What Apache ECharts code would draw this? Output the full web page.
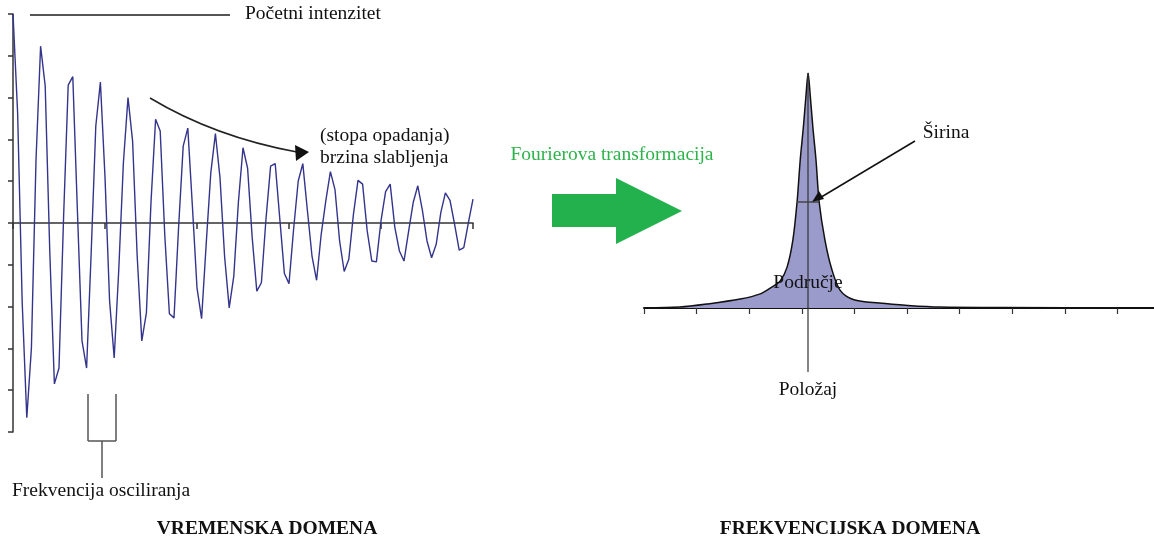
<!DOCTYPE html>
<html>
<head>
<meta charset="utf-8">
<script src="https://cdn.jsdelivr.net/npm/echarts@6/dist/echarts.min.js"></script>
<style>
html,body{margin:0;padding:0;background:#fff;}
#chart{width:1154px;height:541px;}
</style>
</head>
<body>
<div id="chart"></div>
<script>
// ---- Data ----
// Time domain: sampled decaying oscillation, one value per sample (sample step 0.05 time units)
const sampleStep = 0.05;
const decaySignal = [
  5.0, 2.65, -1.9, -4.66, -3.0, 1.5, 4.23, 3.28, -0.7, -3.85,
  -3.47, 0.15, 3.30, 3.50, 0.3, -2.82, -3.47, -0.7, 2.32, 3.37,
  1.1, -1.87, -3.23, -1.1, 1.44, 3.0, 1.96, -0.8, -2.82, -2.15,
  0.5, 2.48, 2.2, -0.3, -2.17, -2.27, -0.1, 1.84, 2.27, 0.4,
  -1.55, -2.29, -0.5, 1.2, 2.14, 1.08, -0.8, -2.03, -1.27, 0.5,
  1.8, 1.31, -0.35, -1.63, -1.43, 0.1, 1.36, 1.42, 0.1, -1.21,
  -1.45, -0.15, 1.0, 1.42, 0.3, -0.79, -1.37, -0.27, 0.53, 1.23,
  0.8, -0.43, -1.16, -0.87, 0.2, 1.02, 0.93, -0.19, -0.91, -0.93,
  0.05, 0.75, 0.93, -0.1, -0.67, -0.91, -0.2, 0.49, 0.89, 0.3,
  -0.43, -0.83, -0.51, 0.25, 0.72, 0.54, -0.03, -0.65, -0.59, 0.01,
  0.57
];
// Frequency domain: peak (frequency, relative intensity)
const peakFreq = [0.00, 0.68, 1.20, 1.83, 2.21, 2.43, 2.59, 2.72, 2.83, 2.91, 2.97, 3.03, 3.08, 3.12,
                  3.16, 3.21, 3.27, 3.33, 3.44, 3.57, 3.73, 3.99, 4.47, 5.02, 5.63, 6.77, 9.70];
const peakIntensity = [0.0, 0.004, 0.017, 0.038, 0.06, 0.089, 0.115, 0.174, 0.289, 0.451, 0.63, 0.77, 0.906, 1.0,
                  0.906, 0.77, 0.63, 0.451, 0.289, 0.165, 0.075, 0.035, 0.021, 0.011, 0.004, 0.002, 0.0];
const peakPosition = 3.12;

// Labels
const labels = {
  initial: 'Početni intenzitet',
  decay1: '(stopa opadanja)',
  decay2: 'brzina slabljenja',
  freq: 'Frekvencija osciliranja',
  timeDomain: 'VREMENSKA DOMENA',
  fourier: 'Fourierova transformacija',
  width: 'Širina',
  area: 'Područje',
  position: 'Položaj',
  freqDomain: 'FREKVENCIJSKA DOMENA'
};

// ---- Build chart ----
const timeData = decaySignal.map((v, i) => [+(i * sampleStep).toFixed(2), v]);
const peakData = peakFreq.map((f, i) => [f, peakIntensity[i]]);

const FONT = '"Liberation Serif", "Times New Roman", serif';
const chart = echarts.init(document.getElementById('chart'), null, {renderer: 'canvas'});

function txt(x, y, text, opt) {
  return {
    type: 'text', x: x, y: y, z: 100,
    style: Object.assign({text: text, fill: '#111', font: '19.5px ' + FONT, textAlign: 'left', textVerticalAlign: 'middle'}, opt || {})
  };
}
function ln(x1, y1, x2, y2, color, w) {
  return {type: 'line', z: 90, shape: {x1, y1, x2, y2}, style: {stroke: color || '#444', lineWidth: w || 1.5}};
}

const option = {
  animation: false,
  backgroundColor: '#fff',
  grid: [
    {left: 13, top: 14, width: 460, height: 418, outerBoundsMode: 'none', containLabel: false},
    {left: 644, top: 73, width: 526, height: 235, outerBoundsMode: 'none', containLabel: false}
  ],
  xAxis: [
    {gridIndex: 0, type: 'value', min: 0, max: 5, interval: 1,
     axisLine: {onZero: true, lineStyle: {color: '#333', width: 1.5}},
     axisTick: {show: true, length: 6, lineStyle: {color: '#333', width: 1.5}},
     axisLabel: {show: false}, splitLine: {show: false}},
    {gridIndex: 1, type: 'value', min: 0, max: 10, interval: 1,
     axisLine: {lineStyle: {color: '#111', width: 2}},
     axisTick: {show: true, length: 6, lineStyle: {color: '#333', width: 1.2}},
     axisLabel: {show: false}, splitLine: {show: false}}
  ],
  yAxis: [
    {gridIndex: 0, type: 'value', min: -5, max: 5, interval: 1,
     axisLine: {show: true, onZero: false, lineStyle: {color: '#333', width: 1.5}},
     axisTick: {show: true, length: 5, lineStyle: {color: '#333', width: 1.5}},
     axisLabel: {show: false}, splitLine: {show: false}},
    {gridIndex: 1, type: 'value', min: 0, max: 1, show: false, splitLine: {show: false}}
  ],
  series: [
    {type: 'line', xAxisIndex: 0, yAxisIndex: 0, data: timeData, showSymbol: false,
     lineStyle: {color: '#34348c', width: 1.4}, z: 5},
    {type: 'line', xAxisIndex: 1, yAxisIndex: 1, data: peakData, showSymbol: false, smooth: 0.3,
     lineStyle: {color: '#111', width: 1.5},
     areaStyle: {color: '#9a9acb', opacity: 1}, z: 3}
  ],
  graphic: [
    // initial intensity
    ln(30, 15, 230, 15, '#555', 2),
    txt(245, 14, labels.initial),
    // decay-rate arrow
    {type: 'bezierCurve', z: 90, shape: {x1: 150, y1: 98, cpx1: 215, cpy1: 137, x2: 297, y2: 152},
     style: {stroke: '#222', lineWidth: 1.5, fill: null}},
    {type: 'polygon', z: 91, shape: {points: [[295, 145], [309, 152], [296, 161]]}, style: {fill: '#111'}},
    txt(320, 136, labels.decay1),
    txt(320, 158, labels.decay2),
    // frequency bracket
    ln(88, 394, 88, 441, '#555', 1.5),
    ln(116, 394, 116, 441, '#555', 1.5),
    ln(88, 441, 116, 441, '#555', 1.5),
    ln(102, 441, 102, 478, '#555', 1.5),
    txt(12, 491, labels.freq),
    txt(267, 529, labels.timeDomain, {textAlign: 'center', font: 'bold 19.5px ' + FONT}),
    // Fourier arrow
    txt(612, 155, labels.fourier, {textAlign: 'center', fill: '#2db34a'}),
    {type: 'polygon', z: 90, shape: {points: [[552, 194], [616, 194], [616, 178], [682, 211], [616, 244], [616, 227], [552, 227]]},
     style: {fill: '#22b14c'}},
    // right side annotations
    ln(808, 73, 808, 372, '#333', 1.2),
    ln(797, 202, 819, 202, '#444', 1.5),
    ln(915, 141, 818, 199, '#111', 1.5),
    {type: 'polygon', z: 91, shape: {points: [[812, 202], [824, 199], [819, 191]]}, style: {fill: '#111'}},
    txt(946, 133, labels.width, {textAlign: 'center'}),
    txt(808, 283, labels.area, {textAlign: 'center'}),
    txt(808, 390, labels.position, {textAlign: 'center'}),
    txt(850, 529, labels.freqDomain, {textAlign: 'center', font: 'bold 19.5px ' + FONT})
  ]
};
chart.setOption(option);
</script>
</body>
</html>
